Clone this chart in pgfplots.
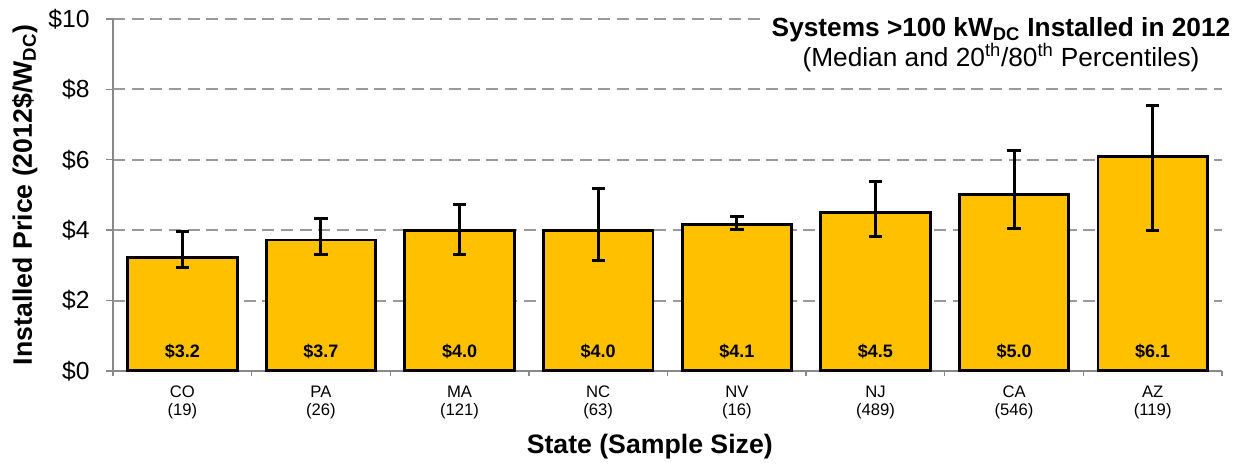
\documentclass[border=0pt]{standalone}
\usepackage{fontspec}
\setmainfont{Liberation Sans}
\usepackage{pgfplots}
\usepackage{pgfplotstable}
\pgfplotsset{compat=1.18}
\definecolor{barfill}{HTML}{FFC000}
\definecolor{axgray}{HTML}{898989}
\definecolor{gridgray}{HTML}{9A9A9A}
\pgfplotstableread{
x y ep em
0 3.21 0.75 0.28
1 3.72 0.62 0.40
2 4.00 0.74 0.68
3 4.00 1.19 0.87
4 4.17 0.23 0.14
5 4.50 0.87 0.68
6 5.01 1.26 0.97
7 6.09 1.44 2.09
}\prices
\pgfplotstableread{
x ly lab
0 0.56 3.2
1 0.56 3.7
2 0.56 4.0
3 0.56 4.0
4 0.56 4.1
5 0.56 4.5
6 0.56 5.0
7 0.56 6.1
}\labels
\begin{document}
\begin{tikzpicture}
\begin{axis}[
  scale only axis,
  width=832pt, height=264pt,
  xmin=-0.5, xmax=7.5,
  ymin=0, ymax=10,
  axis x line*=bottom, axis y line*=left,
  axis line style={draw=axgray, line width=1.5pt, -},
  xtick={0,...,7},
  xticklabels={{CO\\(19)},{PA\\(26)},{MA\\(121)},{NC\\(63)},{NV\\(16)},{NJ\\(489)},{CA\\(546)},{AZ\\(119)}},
  xticklabel style={align=center, font=\fontsize{12.5}{13}\selectfont, yshift=-3pt},
  major x tick style={draw=none},
  minor xtick={-0.5,0.5,...,7.5},
  minor x tick style={draw=axgray, line width=1pt},
  minor tick length=4pt,
  ytick={0,2,...,10},
  yticklabels={\$0,\$2,\$4,\$6,\$8,\$10},
  yticklabel style={font=\fontsize{18.5}{22}\selectfont, xshift=-9pt},
  major y tick style={draw=axgray, line width=1pt},
  major tick length=5pt,
  tick align=outside,
  ymajorgrids,
  grid style={draw=gridgray, line width=1.5pt, dash pattern=on 9pt off 5pt},
  /pgf/number format/assume math mode=true,
  ylabel={\bfseries Installed Price (2012\$/W\textsubscript{DC})},
  ylabel style={font=\fontsize{20}{24}\selectfont, at={(rel axis cs:-0.064,0.5)}, anchor=south},
  xlabel={\bfseries State (Sample Size)},
  xlabel style={font=\fontsize{20}{24}\selectfont, at={(rel axis cs:0.484,-0.216)}, anchor=center},
  clip=false,
]
\addplot[ybar, bar width=0.79, bar shift=0pt, fill=barfill, draw=black, line width=2.2pt,
  error bars/.cd, y dir=both, y explicit,
  error bar style={line width=2.2pt, black},
  error mark options={line width=2.2pt, mark size=5pt, black, rotate=90}]
  table[x=x, y=y, y error plus=ep, y error minus=em]{\prices};
\addplot[only marks, mark=none, point meta=explicit,
  nodes near coords={\bfseries\$\pgfmathprintnumber[fixed, fixed zerofill, precision=1, assume math mode=true]{\pgfplotspointmeta}},
  every node near coord/.style={anchor=center, font=\fontsize{13.5}{15}\selectfont, black}]
  table[x=x, y=ly, meta=lab]{\labels};
\node[anchor=north, align=center, inner xsep=7pt, inner ysep=1pt, fill=white, font=\fontsize{19.7}{20.3}\selectfont]
  at (rel axis cs:0.8007,1.01)
  {\bfseries Systems >100 kW\textsubscript{DC} Installed in 2012\\(Median and 20\textsuperscript{th}/80\textsuperscript{th} Percentiles)};
\coordinate (bl) at (rel axis cs:-0.1019,-0.2642);
\coordinate (tr) at (rel axis cs:1.0153,1.054);
\end{axis}
\pgfresetboundingbox
\path (bl) rectangle (tr);
\end{tikzpicture}
\end{document}
